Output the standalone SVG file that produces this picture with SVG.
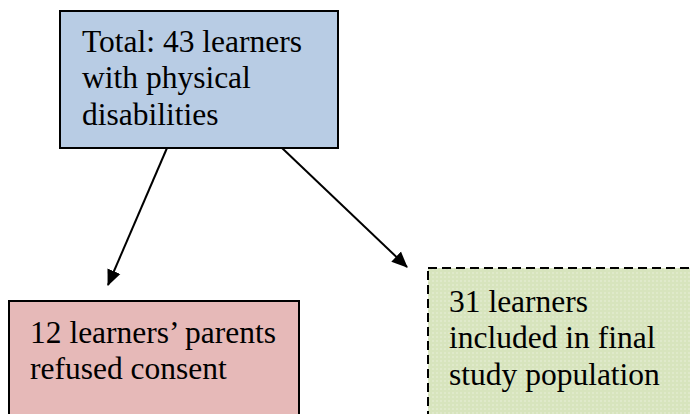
<svg xmlns="http://www.w3.org/2000/svg" width="690" height="414" viewBox="0 0 690 414">
<style>
.t{font-family:'Liberation Serif',Tinos,'Nimbus Roman','Times New Roman',Times,'DejaVu Serif',serif;font-size:31.5px;fill:#000}
.box{stroke:#000;stroke-width:2}
.conn{stroke:#000;stroke-width:2;fill:none;marker-end:url(#ah)}
</style>
<defs>
<marker id="ah" markerWidth="16" markerHeight="16" refX="15" refY="8" orient="auto" markerUnits="userSpaceOnUse" viewBox="0 0 16 16">
<path d="M0,1 L16,8 L0,15 z" fill="#000"/>
</marker>
<pattern id="dots" width="4" height="4" patternUnits="userSpaceOnUse">
<rect width="4" height="4" fill="#d7e4bd"/>
<circle cx="1" cy="1" r="0.7" fill="#eef4e2"/>
</pattern>
</defs>
<rect width="690" height="414" fill="#fff"/>
<g id="connectors">
<line class="conn" x1="167" y1="148" x2="108" y2="285"/>
<line class="conn" x1="282" y1="148" x2="407" y2="267"/>
</g>
<g id="total">
<rect class="box" x="60" y="11" width="278" height="137" fill="#b8cce4"/>
<text class="t" x="82" y="52">Total: 43 learners</text>
<text class="t" x="82" y="88">with physical</text>
<text class="t" x="82" y="125">disabilities</text>
</g>
<g id="refused">
<rect class="box" x="9" y="301" width="290" height="120" fill="#e6b9b8"/>
<text class="t" x="30" y="343">12 learners’ parents</text>
<text class="t" x="30" y="379">refused consent</text>
</g>
<g id="included">
<rect x="428" y="268" width="280" height="160" fill="url(#dots)" stroke="#000" stroke-width="2" stroke-dasharray="9,5"/>
<text class="t" x="449" y="312">31 learners</text>
<text class="t" x="449" y="348">included in final</text>
<text class="t" x="449" y="385">study population</text>
</g>
</svg>
